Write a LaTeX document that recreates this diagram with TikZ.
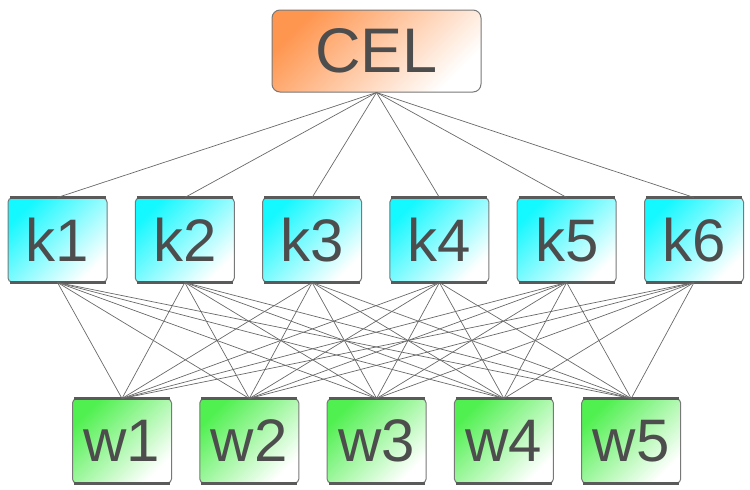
\documentclass[tikz,border=0pt]{standalone}
\usepackage{fontspec}
\setmainfont{Liberation Sans}
\usetikzlibrary{positioning}
\definecolor{celorange}{RGB}{255,150,80}
\definecolor{kcyan}{RGB}{20,248,255}
\definecolor{wgreen}{RGB}{80,240,80}
\definecolor{edgegray}{RGB}{120,120,120}
\definecolor{bargray}{RGB}{90,90,90}
\definecolor{linegray}{RGB}{105,105,105}
\definecolor{textgray}{RGB}{77,77,77}
\tikzstyle{bar} = [draw=bargray, line width=3pt]
\tikzstyle{block} = [ rectangle, draw=edgegray, line width=1pt, inner sep=0pt, text=textgray, font=\fontsize{60}{60}\selectfont]
\tikzstyle{top} = [ block, rounded corners=8pt, minimum width=209pt, minimum height=82pt, top color=celorange, bottom color=white, shading angle=45, font=\fontsize{63}{63}\selectfont]
\tikzstyle{mid} = [ block, rounded corners=4pt, minimum width=99pt, minimum height=84pt,
  append after command={([xshift=2pt]\tikzlastnode.north west) edge[bar] ([xshift=-2pt]\tikzlastnode.north east)
    ([xshift=2pt]\tikzlastnode.south west) edge[bar] ([xshift=-2pt]\tikzlastnode.south east)}]
\tikzstyle{kblock} = [ mid, top color=kcyan, bottom color=white, shading angle=45]
\tikzstyle{wblock} = [ mid, top color=wgreen, bottom color=white, shading angle=45]
\tikzstyle{line} = [ draw=linegray, line width=0.7pt]

\begin{document}
\begin{tikzpicture}[x=1pt, y=1pt, node distance=127.3pt]
  \useasboundingbox (0,0) rectangle (750,-490);

  \node [top] (cel) at (376.5,-51) {CEL};

  \node [kblock] (k1) at (57.5,-240) {k1};
  \node [kblock, right of=k1] (k2) {k2};
  \node [kblock, right of=k2] (k3) {k3};
  \node [kblock, right of=k3] (k4) {k4};
  \node [kblock, right of=k4] (k5) {k5};
  \node [kblock, right of=k5] (k6) {k6};

  \node [wblock] (w1) at (122,-441) {w1};
  \node [wblock, right of=w1] (w2) {w2};
  \node [wblock, right of=w2] (w3) {w3};
  \node [wblock, right of=w3] (w4) {w4};
  \node [wblock, right of=w4] (w5) {w5};

  \path [line] (cel.south) -- (k1.north);
  \path [line] (cel.south) -- (k2.north);
  \path [line] (cel.south) -- (k3.north);
  \path [line] (cel.south) -- (k4.north);
  \path [line] (cel.south) -- (k5.north);
  \path [line] (cel.south) -- (k6.north);

  \path [line] (k1.south) -- (w1.north);
  \path [line] (k1.south) -- (w2.north);
  \path [line] (k1.south) -- (w3.north);
  \path [line] (k1.south) -- (w4.north);
  \path [line] (k1.south) -- (w5.north);

  \path [line] (k2.south) -- (w1.north);
  \path [line] (k2.south) -- (w2.north);
  \path [line] (k2.south) -- (w3.north);
  \path [line] (k2.south) -- (w4.north);
  \path [line] (k2.south) -- (w5.north);

  \path [line] (k3.south) -- (w1.north);
  \path [line] (k3.south) -- (w2.north);
  \path [line] (k3.south) -- (w3.north);
  \path [line] (k3.south) -- (w4.north);
  \path [line] (k3.south) -- (w5.north);

  \path [line] (k4.south) -- (w1.north);
  \path [line] (k4.south) -- (w2.north);
  \path [line] (k4.south) -- (w3.north);
  \path [line] (k4.south) -- (w4.north);
  \path [line] (k4.south) -- (w5.north);

  \path [line] (k5.south) -- (w1.north);
  \path [line] (k5.south) -- (w2.north);
  \path [line] (k5.south) -- (w3.north);
  \path [line] (k5.south) -- (w4.north);
  \path [line] (k5.south) -- (w5.north);

  \path [line] (k6.south) -- (w1.north);
  \path [line] (k6.south) -- (w2.north);
  \path [line] (k6.south) -- (w3.north);
  \path [line] (k6.south) -- (w4.north);
  \path [line] (k6.south) -- (w5.north);
\end{tikzpicture}
\end{document}
